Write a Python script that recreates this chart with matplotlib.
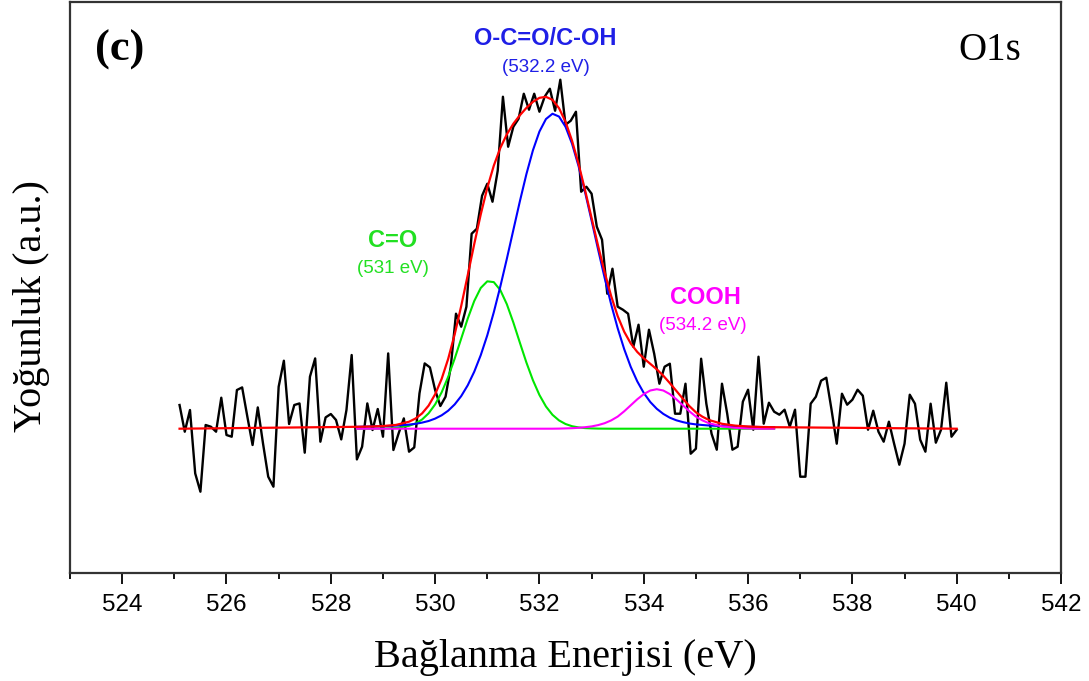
import numpy as np
import matplotlib
matplotlib.use('Agg')
import matplotlib.pyplot as plt
from matplotlib.ticker import MultipleLocator

# measured O1s scan, 0.1 eV step
scan_ev = np.round(np.arange(525.1, 540.05, 0.1), 1)
counts = [23.7, -3, 18.7, -44.7, -63, 3.7, 2, -3, 31, -6.3,
          -8, 38.7, 41.3, 12, -16.3, 21.3, -14.7, -48, -58, 42,
          68, 4.7, 23.7, 25.3, -24, 52, 70.3, -13, 11.3, 14.7,
          8.7, -10.7, 18.7, 73.7, -30.7, -18, 25.3, -1.3, 19.7, -8,
          75.3, -21.3, -4.7, 10.3, -23, -18.7, 35.3, 65.3, 61.3, 38.7,
          22.7, 32, 62, 115, 102, 122, 195, 200, 233, 245,
          227, 258, 332, 282, 302, 310, 335, 319, 335, 317,
          332, 340, 318, 349, 304, 308, 317, 237, 242, 235,
          202, 189, 135, 160, 122, 119, 115, 82, 104, 62,
          99, 75, 45, 62, 65, 15, 15, 45, -25, -20,
          70, 25, -5, -21, 45, 15, -21, -18, 27, 39,
          -1, 72, 5, 26, 17, 14, 19, 2, 19, -48,
          -48, 25, 32, 48, 51, 19, -15, 35, 24, 29,
          39, 33, -1, 18, -3, -13, 7, -15, -36, -15,
          34, 25, -11, -23, 25, -14, -1, 46, -8, -1]

# fitted components (finer step around the peaks)
fit_ev = [528.5, 528.75, 529.0, 529.25, 529.5, 529.625, 529.75, 529.875,
          530.0, 530.125, 530.25, 530.375, 530.5, 530.625, 530.75, 530.875,
          531.0, 531.125, 531.25, 531.375, 531.5, 531.625, 531.75, 531.875,
          532.0, 532.125, 532.25, 532.375, 532.5, 532.625, 532.75, 532.875,
          533.0, 533.125, 533.25, 533.375, 533.5, 533.625, 533.75, 533.875,
          534.0, 534.125, 534.25, 534.375, 534.5, 534.625, 534.75, 534.875,
          535.0, 535.125, 535.25, 535.5, 535.75, 536.0, 536.25, 536.5]
peak_ococ = [1.9, 2.2, 2.5, 3.1, 4.1, 4.9, 6.1, 7.7,
             10.1, 13.4, 18.0, 24.3, 32.6, 43.4, 57.0, 73.6,
             93.4, 116.5, 142.2, 169.9, 198.8, 227.5, 254.6, 278.4,
             297.2, 309.7, 315.0, 312.2, 302.0, 285.0, 262.6, 236.4,
             208.1, 179.1, 150.9, 124.4, 100.5, 79.6, 61.9, 47.4,
             35.8, 26.7, 19.9, 14.8, 11.0, 8.4, 6.6, 5.2,
             4.3, 3.7, 3.2, 2.6, 2.2, 1.9, 1.7, 1.5]
peak_co = [0, 0, 0.15, 0.7, 2.9, 5.3, 9.2, 15.4,
           24.3, 36.4, 51.8, 70.1, 90.1, 110.1, 127.7, 140.8,
           147.4, 146.6, 138.6, 124.5, 106.2, 86.0, 66.2, 48.5,
           33.7, 22.2, 13.9, 8.3, 4.7, 2.5, 1.3, 0.6,
           0.3, 0.1, 0.05, 0, 0, 0, 0, 0,
           0, 0, 0, 0, 0, 0, 0, 0,
           0, 0, 0, 0, 0, 0, 0, 0]
peak_cooh = [0, 0, 0, 0, 0, 0, 0, 0,
             0, 0, 0, 0, 0, 0, 0, 0,
             0, 0, 0, 0, 0, 0, 0, 0,
             0, 0, 0.01, 0.1, 0.3, 0.5, 0.9, 1.5,
             2.3, 3.6, 5.5, 8.3, 12.1, 17.4, 23.4, 29.4,
             34.6, 38.2, 39.5, 38.2, 34.6, 29.4, 23.4, 17.4,
             12.1, 8.3, 5.5, 2.3, 0.9, 0.3, 0.01, 0]

envelope = np.array(peak_ococ) + np.array(peak_co) + np.array(peak_cooh)
env_ev = np.concatenate([[525.1], fit_ev, [540.0]])
env_y = np.concatenate([[0], envelope, [0]])

fig = plt.figure(figsize=(10.89, 6.81), dpi=100)
ax = fig.add_axes([0.0643, 0.1586, 0.91, 0.8384])

ax.plot(scan_ev, counts, color='black', lw=1.7, zorder=2)
ax.plot(fit_ev, peak_co, color='#00e600', lw=1.5, zorder=3)
ax.plot(fit_ev, peak_ococ, color='#0000ff', lw=1.5, zorder=3)
ax.plot(fit_ev, peak_cooh, color='#ff00ff', lw=1.5, zorder=4)
ax.plot(env_ev, env_y, color='#ff0000', lw=1.6, zorder=5)

ax.set_xlim(523, 542)
ax.set_ylim(-144.3, 426.7)
ax.xaxis.set_major_locator(MultipleLocator(2))
ax.xaxis.set_minor_locator(MultipleLocator(1))
ax.set_yticks([])
ax.tick_params(axis='x', which='major', direction='out', length=8, width=1.3,
               pad=7, labelsize=17.5)
ax.tick_params(axis='x', which='minor', direction='out', length=4, width=1.3)
for lab in ax.get_xticklabels():
    lab.set_fontfamily('Liberation Sans')
for sp in ax.spines.values():
    sp.set_color('#333333')
    sp.set_linewidth(1.6)

ax.set_xlabel('Bağlanma Enerjisi (eV)', fontsize=29, family='Liberation Serif', labelpad=17)
ax.set_ylabel('Yoğunluk (a.u.)', fontsize=29, family='Liberation Serif')
ax.yaxis.set_label_coords(-0.0202, 0.468)

ax.text(523.96, 378.7, '(c)', fontsize=32, fontweight='bold', family='Liberation Serif',
        ha='center', va='center')
ax.text(540.64, 378.7, 'O1s', fontsize=28, family='Liberation Serif', ha='center', va='center')

sans = 'Liberation Sans'
ax.text(532.11, 390.7, 'O-C=O/C-OH', color='#1f1fe6', fontsize=17, fontweight='bold',
        family=sans, ha='center', va='center')
ax.text(532.13, 361.7, '(532.2 eV)', color='#1f1fe6', fontsize=13.5, family=sans,
        ha='center', va='center')
ax.text(529.19, 188.7, 'C=O', color='#22e022', fontsize=17, fontweight='bold',
        family=sans, ha='center', va='center')
ax.text(529.19, 160.7, '(531 eV)', color='#22e022', fontsize=13.5, family=sans,
        ha='center', va='center')
ax.text(535.19, 131.7, 'COOH', color='#ff00ff', fontsize=17, fontweight='bold',
        family=sans, ha='center', va='center')
ax.text(535.14, 103.7, '(534.2 eV)', color='#ff00ff', fontsize=13.5, family=sans,
        ha='center', va='center')

fig.savefig('out.png', dpi=100)
